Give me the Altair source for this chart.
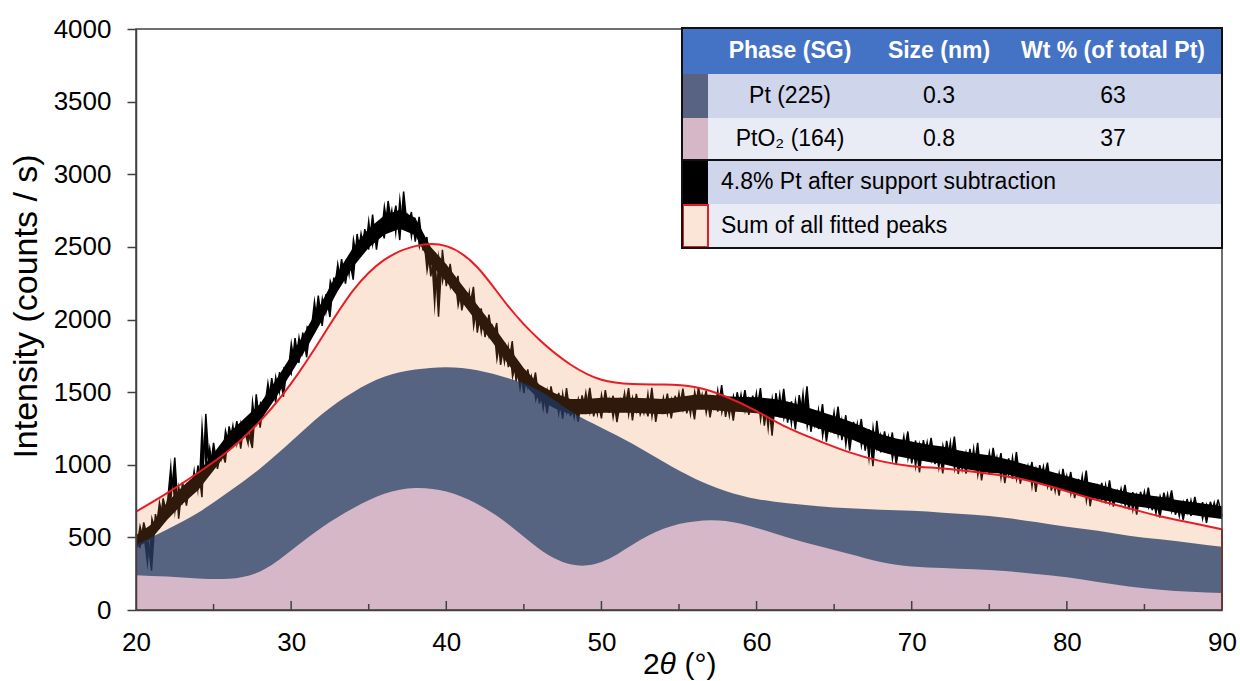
import altair as alt
import numpy as np
import pandas as pd

FONT = "Liberation Sans, Arial, Helvetica, sans-serif"

# ---------------- fitted curves (every 2 degrees) ----------------
fit_x = [20, 22, 24, 26, 28, 30, 32, 34, 36, 38, 40, 42, 44, 46, 48, 50, 52, 54,
         56, 58, 60, 62, 64, 66, 68, 70, 72, 74, 76, 78, 80, 82, 84, 86, 88, 90]
fit_sum = [677, 805, 945, 1100, 1300, 1560, 1880, 2200, 2410, 2505, 2505, 2360, 2090, 1860,
           1690, 1585, 1556, 1552, 1535, 1470, 1370, 1255, 1165, 1085, 1025, 990, 975, 952,
           922, 878, 818, 755, 700, 645, 600, 555]
fit_pt = [450, 555, 670, 815, 975, 1160, 1350, 1500, 1605, 1655, 1672, 1650, 1595, 1510,
          1370, 1255, 1145, 1020, 905, 820, 765, 735, 715, 700, 690, 683, 670, 655, 635,
          605, 573, 545, 512, 487, 462, 436]
fit_pto2 = [240, 230, 217, 215, 265, 410, 570, 700, 800, 840, 815, 730, 590, 420, 315, 330,
            450, 560, 610, 612, 565, 500, 440, 385, 330, 300, 290, 280, 268, 248, 225, 192,
            162, 140, 125, 117]

# ---------------- measured pattern (every 0.25 degree, 20 -> 90) ----------------
trace_y = [
    522, 426, 603, 493,     270, 660, 558, 769,     654, 763, 1050, 629,    881, 718, 880, 808,
    995, 777, 1350, 939,    1150, 971, 1103, 1015,  1264, 1153, 1301, 1111, 1312, 1213, 1115, 1485,
    1256, 1439, 1401, 1597, 1429, 1637, 1468, 1677, 1625, 1872, 1702, 1910, 1740, 1960, 1932, 2165,
    1956, 2175, 2017, 2288, 2208, 2416, 2247, 2417, 2274, 2589, 2436, 2622, 2482, 2722, 2481, 2670,
    2559, 2816, 2644, 2784, 2547, 2880, 2619, 2740, 2536, 2707, 2475, 2568, 2297, 2462, 2020, 2480,
    2229, 2383, 2198, 2300, 2063, 2191, 2084, 2225, 1910, 2077, 1879, 2033, 1861, 1976, 1688, 1843,
    1672, 1852, 1576, 1678, 1493, 1657, 1509, 1635, 1422, 1518, 1353, 1540, 1401, 1495, 1316, 1527,
    1335, 1426, 1296, 1478, 1374, 1529, 1333, 1450, 1319, 1514, 1358, 1475, 1293, 1449, 1384, 1527,
    1306, 1488, 1346, 1424, 1333, 1529, 1295, 1452, 1361, 1490, 1320, 1475, 1369, 1524, 1354, 1457,
    1313, 1534, 1404, 1508, 1326, 1470, 1366, 1549, 1329, 1459, 1304, 1499, 1369, 1513, 1344, 1475,
    1371, 1528, 1269, 1452, 1200, 1494, 1326, 1523, 1290, 1436, 1243, 1479, 1312, 1540, 1227, 1373,
    1245, 1417, 1159, 1331, 1216, 1401, 1170, 1341, 1097, 1295, 1169, 1315, 1097, 1244, 990, 1303,
    1085, 1230, 1076, 1222, 1003, 1161, 1084, 1229, 1009, 1167, 947, 1170, 1041, 1185, 1004, 1122,
    941, 1164, 1023, 1194, 936, 1094, 939, 1110, 968, 1151, 892, 1049, 933, 1117, 949, 1080,
    873, 1044, 903, 1088, 869, 1001, 899, 1019, 813, 997, 895, 1015, 822, 928, 787, 972,
    818, 950, 770, 903, 801, 959, 714, 872, 756, 875, 734, 892, 712, 818, 742, 861,
    693, 812, 657, 814, 711, 842, 687, 766, 637, 808, 705, 824, 656, 749, 620, 764,
    648, 779, 650, 742, 600, 745, 655, 760, 644,
]
# dense core of the measured pattern, every degree
band_x = list(range(20, 91))
band_lo = [426, 490, 620, 730, 825, 960, 1100, 1200, 1300, 1460, 1630,
           1804, 1994, 2194, 2364, 2494, 2584, 2624, 2580, 2380, 2260,
           2120, 1980, 1840, 1690, 1555, 1448, 1388, 1348, 1348, 1358,
           1358, 1358, 1353, 1348, 1363, 1378, 1378, 1368, 1363, 1355,
           1335, 1315, 1285, 1250, 1215, 1180, 1135, 1090, 1060, 1040,
           1020, 1005, 980, 960, 945, 938, 908, 878, 848, 818,
           788, 763, 746, 721, 706, 691, 671, 656, 641, 626]
band_hi = [514, 590, 740, 850, 945, 1080, 1220, 1320, 1420, 1580, 1750,
           1936, 2126, 2326, 2496, 2626, 2716, 2756, 2700, 2500, 2380,
           2240, 2100, 1960, 1810, 1665, 1552, 1492, 1452, 1452, 1462,
           1462, 1462, 1457, 1452, 1467, 1482, 1482, 1472, 1467, 1465,
           1455, 1435, 1405, 1370, 1335, 1300, 1255, 1210, 1180, 1160,
           1140, 1125, 1100, 1080, 1065, 1042, 1012, 982, 952, 922,
           892, 867, 834, 809, 794, 779, 759, 744, 729, 714]

# ---------------- axes ----------------
x_label_values = [20, 30, 40, 50, 60, 70, 80, 90]
x_major_ticks = [30, 40, 50, 60, 70, 80]
x_minor_ticks = [25, 35, 45, 55, 65, 75, 85]
y_tick_values = [0, 500, 1000, 1500, 2000, 2500, 3000, 3500, 4000]
y_title = "Intensity (counts / s)"

# ---------------- legend table ----------------
table_header = ["Phase (SG)", "Size (nm)", "Wt % (of total Pt)"]
table_rows = [["Pt (225)", "0.3", "63"], ["PtO\u2082 (164)", "0.8", "37"]]
legend_labels = ["4.8% Pt after support subtraction", "Sum of all fitted peaks"]

# ---------------- styles ----------------
ORANGE = "#ED7D31"
BLUE = "#203864"
PINK = "#D6B7C8"
RED = "#E81C24"
AXIS = "#404040"
HEAD = "#4472C4"
ROW_A = "#CFD5EA"
ROW_B = "#E9EBF5"
SW_PT = "#576380"
SW_SUM = "#FBE5D6"

W, H = 1086, 581

fit_df = pd.DataFrame({"x": fit_x, "sum": fit_sum, "pt": fit_pt, "pto2": fit_pto2})
trace_df = pd.DataFrame({"x": np.linspace(20, 90, len(trace_y)), "y": trace_y})
band_df = pd.DataFrame({"x": band_x, "lo": band_lo, "hi": band_hi})
edge_df = pd.DataFrame({"x": [fit_x[-1]], "y0": [0], "y1": [fit_sum[-1]]})
major_df = pd.DataFrame({"t": x_major_ticks})
minor_df = pd.DataFrame({"t": x_minor_ticks})
dummy = pd.DataFrame({"d": [0]})

xs = alt.Scale(domain=[20, 90], nice=False, zero=False)
ys = alt.Scale(domain=[0, 4000], nice=False)

x_axis = alt.Axis(values=x_label_values, format="d", ticks=False, tickSize=0,
                  labelFont=FONT, labelFontSize=26, labelColor="black", labelPadding=19,
                  labelFlush=False, labelOverlap=False, domainColor=AXIS, domainWidth=1.5,
                  grid=False, title=None, zindex=1)
y_axis = alt.Axis(values=y_tick_values, format="d", tickSize=9, tickColor=AXIS, tickWidth=1.5,
                  labelFont=FONT, labelFontSize=26, labelColor="black", labelPadding=16,
                  labelFlush=False, labelOverlap=False, domainColor=AXIS, domainWidth=1.5,
                  grid=False, title=y_title, titleFont=FONT, titleFontSize=34,
                  titleFontWeight="normal", titleColor="black", titleAngle=270,
                  titleX=-110, titleY=277, titleAlign="center", titleBaseline="middle",
                  zindex=1)


def X(f):
    return alt.X(f"{f}:Q", scale=xs, axis=x_axis)


def Y(f):
    return alt.Y(f"{f}:Q", scale=ys, axis=y_axis)


layers = []
layers.append(alt.Chart(band_df).mark_area(color="black").encode(x=X("x"), y=Y("lo"), y2=alt.Y2("hi")))
# each sample spans to the next one (filled), giving the dense noisy look
layers.append(alt.Chart(trace_df)
              .transform_window(ny="lead(y)", sort=[alt.SortField("x")])
              .transform_filter("datum.ny != null")
              .mark_area(color="black")
              .encode(x=X("x"), y=Y("y"), y2=alt.Y2("ny")))
layers.append(alt.Chart(trace_df).mark_line(color="black", strokeWidth=1.5).encode(x=X("x"), y=Y("y")))
layers.append(alt.Chart(fit_df).mark_area(color=ORANGE, opacity=0.2, interpolate="natural")
              .encode(x=X("x"), y=Y("sum")))
layers.append(alt.Chart(fit_df).mark_area(color=BLUE, opacity=0.75, interpolate="natural")
              .encode(x=X("x"), y=Y("pt")))
layers.append(alt.Chart(fit_df).mark_area(color=PINK, opacity=1, interpolate="natural")
              .encode(x=X("x"), y=Y("pto2")))
layers.append(alt.Chart(fit_df).mark_line(color=RED, strokeWidth=2, interpolate="natural")
              .encode(x=X("x"), y=Y("sum")))
layers.append(alt.Chart(edge_df).mark_rule(color=RED, strokeWidth=2)
              .encode(x=X("x"), y=Y("y0"), y2=alt.Y2("y1")))
layers.append(alt.Chart(major_df).mark_rule(color=AXIS, strokeWidth=1.5)
              .encode(x=X("t"), y=alt.value(H), y2=alt.value(H - 9)))
layers.append(alt.Chart(minor_df).mark_rule(color=AXIS, strokeWidth=1.5)
              .encode(x=X("t"), y=alt.value(H), y2=alt.value(H - 6)))
layers.append(alt.Chart(dummy).mark_rect(fillOpacity=0, stroke=AXIS, strokeWidth=1.5)
              .encode(x=alt.value(0), x2=alt.value(W), y=alt.value(0), y2=alt.value(H)))


def rect(x0, x1, y0, y1, **kw):
    return alt.Chart(dummy).mark_rect(**kw).encode(
        x=alt.value(x0), x2=alt.value(x1), y=alt.value(y0), y2=alt.value(y1))


def txt(s, x, y, align="center", **kw):
    return alt.Chart(dummy).mark_text(text=s, align=align, baseline="middle", font=FONT, **kw).encode(
        x=alt.value(x), y=alt.value(y))


# table geometry (plot-relative pixels)
TX0, TX1, SWX = 546, 1086, 572
rows_y = [-1, 45, 89, 131, 175, 219]
row_fill = [HEAD, ROW_A, ROW_B, ROW_A, ROW_B]
for i in range(5):
    layers.append(rect(TX0, TX1, rows_y[i], rows_y[i + 1], color=row_fill[i]))
layers.append(rect(TX0, SWX, rows_y[1], rows_y[2], color=SW_PT))
layers.append(rect(TX0, SWX, rows_y[2], rows_y[3], color=PINK))
layers.append(rect(TX0, SWX, rows_y[3], rows_y[4], color="black"))
layers.append(rect(TX0 + 1, SWX, rows_y[4] + 1, rows_y[5] - 1, fill=SW_SUM, stroke=RED, strokeWidth=2))
layers.append(alt.Chart(dummy).mark_rule(color="#111111", strokeWidth=2).encode(
    x=alt.value(TX0), x2=alt.value(TX1), y=alt.value(rows_y[3])))
layers.append(rect(TX0, TX1, rows_y[0], rows_y[5], fillOpacity=0, stroke="#111111", strokeWidth=2))

col_x = [654, 803, 977]
row_cy = [22, 67, 110, 153, 197]
for j, h in enumerate(table_header):
    layers.append(txt(h, col_x[j], row_cy[0], fontSize=23, fontWeight="bold", color="white"))
for i, row in enumerate(table_rows):
    for j, v in enumerate(row):
        layers.append(txt(v, col_x[j], row_cy[i + 1], fontSize=23, color="black"))
for i, lab in enumerate(legend_labels):
    layers.append(txt(lab, 585, row_cy[i + 3], align="left", fontSize=23, color="black"))

# x title: 2θ (°) with italic theta
layers.append(alt.Chart(dummy).mark_text(text="2", align="left", baseline="alphabetic", font=FONT,
                                         fontSize=30, color="black").encode(x=alt.value(507), y=alt.value(645)))
layers.append(alt.Chart(dummy).mark_text(text="\u03b8", align="left", baseline="alphabetic", font=FONT,
                                         fontSize=30, fontStyle="italic", color="black")
              .encode(x=alt.value(523.5), y=alt.value(645)))
layers.append(alt.Chart(dummy).mark_text(text="(\u00b0)", align="left", baseline="alphabetic", font=FONT,
                                         fontSize=30, color="black").encode(x=alt.value(548.5), y=alt.value(645)))

chart = alt.layer(*layers).properties(
    width=W, height=H,
    padding={"left": 136, "top": 29, "right": 18, "bottom": 71},
    autosize=alt.AutoSizeParams(type="none"),
    background="white",
).configure_view(stroke=None)

chart.save("out.html", embed_options={"renderer": "svg", "actions": False})
